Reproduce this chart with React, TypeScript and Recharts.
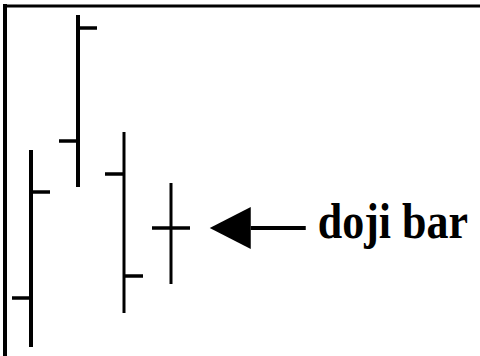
import {
  ComposedChart,
  Bar,
  XAxis,
  YAxis,
  ReferenceDot,
} from "recharts";

const days = ["1", "2", "3", "4"];
const opens = [11.6, 43, 36.4, 25.6];
const highs = [41.2, 68.2, 44.8, 34.6];
const lows = [1.8, 33.8, 8.6, 14.4];
const closes = [32.8, 65.6, 16, 25.6];

const dojiDay = "4";
const dojiLabel = "doji bar";

const data = days.map((day, i) => ({
  day,
  open: opens[i],
  high: highs[i],
  low: lows[i],
  close: closes[i],
}));

const OhlcBar = (props: any) => {
  const { x, y, width, height, payload, index } = props;
  const top = Math.min(y, y + height);
  const bottom = Math.max(y, y + height);
  const span = payload.high - payload.low;
  const toY = (v: number) =>
    Math.round(top + ((payload.high - v) / span) * (bottom - top));
  const cx = Math.round(x + width / 2);
  const w = index < 2 ? 4 : 3;
  return (
    <g stroke="#000" strokeLinecap="butt">
      <line x1={cx} x2={cx} y1={top} y2={bottom} strokeWidth={w} />
      <line
        x1={Math.round(x)}
        x2={cx}
        y1={toY(payload.open)}
        y2={toY(payload.open)}
        strokeWidth={3.5}
      />
      <line
        x1={cx}
        x2={Math.round(x + width)}
        y1={toY(payload.close)}
        y2={toY(payload.close)}
        strokeWidth={3.5}
      />
    </g>
  );
};

// arrow + caption pointing at the doji
const DojiNote = ({ cx, cy }: any) => {
  const tip = cx + 39;
  const base = cx + 80;
  return (
    <g>
      <polygon
        points={`${tip},${cy} ${base},${cy - 21} ${base},${cy + 21}`}
        fill="#000"
      />
      <line
        x1={base}
        x2={cx + 135}
        y1={cy}
        y2={cy}
        stroke="#000"
        strokeWidth={4}
      />
      <text
        transform={`translate(${cx + 147}, ${cy + 10}) scale(1, 1.15)`}
        fontFamily="'Liberation Serif', 'Times New Roman', serif"
        fontWeight="bold"
        fontSize={44}
        fill="#000"
      >
        {dojiLabel}
      </text>
    </g>
  );
};

export default function App() {
  return (
    <div
      style={{
        position: "absolute",
        left: 0,
        top: 0,
        width: 480,
        height: 356,
        background: "#fff",
      }}
    >
      <ComposedChart
        width={480}
        height={356}
        data={data}
        margin={{ top: 0, right: 0, bottom: 0, left: 0 }}
      >
        <XAxis
          dataKey="day"
          orientation="top"
          height={6}
          tick={false}
          tickLine={false}
          axisLine={{ stroke: "#000", strokeWidth: 3 }}
          padding={{ left: 3, right: 286 }}
        />
        <YAxis
          width={5}
          domain={[0, 70]}
          tick={false}
          tickLine={false}
          axisLine={{ stroke: "#000", strokeWidth: 4, strokeLinecap: "square" }}
        />
        <Bar
          dataKey={(d: any) => [d.low, d.high]}
          barSize={38}
          shape={<OhlcBar />}
          isAnimationActive={false}
        />
        <ReferenceDot
          x={dojiDay}
          y={closes[days.indexOf(dojiDay)]}
          shape={(p: any) => <DojiNote {...p} />}
        />
      </ComposedChart>
    </div>
  );
}
